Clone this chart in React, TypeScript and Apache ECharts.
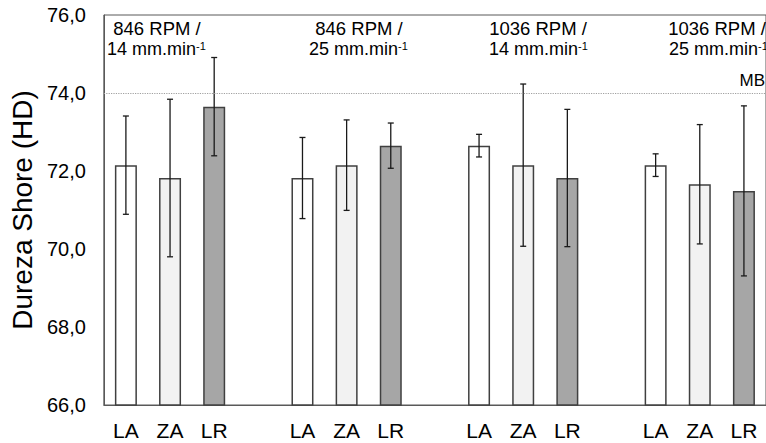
import React, { useEffect, useRef } from "react";
import * as echarts from "echarts";

const groupLine1 = ["846 RPM /", "846 RPM /", "1036 RPM /", "1036 RPM /"];
const groupLine2 = ["14 mm.min", "25 mm.min", "14 mm.min", "25 mm.min"];
const groupSup = "-1";
const types = ["LA", "ZA", "LR"];
const typeColors = ["#ffffff", "#f2f2f2", "#a6a6a6"];

const laMeans = [72.15, 71.82, 72.65, 72.15];
const zaMeans = [71.82, 72.15, 72.15, 71.66];
const lrMeans = [73.65, 72.65, 71.82, 71.49];
const laErr = [1.26, 1.04, 0.29, 0.29];
const zaErr = [2.02, 1.16, 2.08, 1.53];
const lrErr = [1.26, 0.58, 1.76, 2.18];

const refValue = 74.0;
const refLabel = "MB";
const yTicks = { min: 66, max: 76, interval: 2 };

const FONT = "'Liberation Sans', Arial, sans-serif";

export default function App() {
  const ref = useRef<HTMLDivElement>(null);

  useEffect(() => {
    if (!ref.current) return;
    const chart = echarts.init(ref.current, undefined, { renderer: "svg" });

    const means = [laMeans, zaMeans, lrMeans];
    const errs = [laErr, zaErr, lrErr];
    const categories: string[] = [];
    const barData: any[] = [];
    const errData: any[] = [];
    for (let g = 0; g < groupLine1.length; g++) {
      for (let t = 0; t < types.length; t++) {
        const idx = categories.length;
        categories.push(types[t]);
        const m = means[t][g];
        const e = errs[t][g];
        barData.push({ value: m, itemStyle: { color: typeColors[t] } });
        errData.push([idx, m + e, m - e]);
      }
      if (g < groupLine1.length - 1) {
        categories.push("");
        barData.push("-");
      }
    }

    const line1Centers = [157, 359, 538, 717];
    const line2Lefts = [107, 309, 489, 669];

    const labelGraphics: any[] = [];
    for (let i = 0; i < groupLine1.length; i++) {
      labelGraphics.push({
        type: "text",
        x: line1Centers[i],
        y: 28,
        z: 10,
        style: {
          text: groupLine1[i],
          fontSize: 18.5,
          fontFamily: FONT,
          fill: "#000",
          align: "center",
          verticalAlign: "middle",
        },
      });
      labelGraphics.push({
        type: "text",
        x: line2Lefts[i],
        y: 49,
        z: 10,
        style: {
          text: groupLine2[i] + "{sup|" + groupSup + "}",
          fontSize: 18,
          lineHeight: 18,
          fontFamily: FONT,
          fill: "#000",
          align: "left",
          verticalAlign: "middle",
          rich: {
            sup: { fontSize: 11, lineHeight: 18, verticalAlign: "top", fontFamily: FONT, fill: "#000" },
          },
        },
      });
    }

    chart.setOption({
      animation: false,
      textStyle: { fontFamily: FONT },
      grid: {
        left: 103,
        top: 15,
        width: 670,
        height: 390,
        show: true,
        borderColor: "#595959",
        borderWidth: 1,
        backgroundColor: "transparent",
      },
      xAxis: {
        type: "category",
        data: categories,
        boundaryGap: true,
        axisLine: { show: true, lineStyle: { color: "#595959", width: 1 } },
        axisTick: { show: false },
        axisLabel: { interval: 0, color: "#000", fontSize: 21, margin: 15, fontFamily: FONT },
        splitLine: { show: false },
      },
      yAxis: {
        type: "value",
        min: yTicks.min,
        max: yTicks.max,
        interval: yTicks.interval,
        name: "Dureza Shore (HD)",
        nameLocation: "middle",
        nameGap: 66,
        nameTextStyle: { fontSize: 28, color: "#000", fontFamily: FONT },
        axisLine: { show: true, lineStyle: { color: "#595959", width: 1 } },
        axisTick: { show: false },
        splitLine: { show: false },
        axisLabel: {
          color: "#000",
          fontSize: 20,
          margin: 18,
          fontFamily: FONT,
          formatter: (v: number) => v.toFixed(1).replace(".", ","),
        },
      },
      series: [
        {
          type: "bar",
          data: barData,
          barWidth: 22,
          itemStyle: { borderColor: "#404040", borderWidth: 1.5 },
          markLine: {
            silent: true,
            symbol: "none",
            label: { show: false },
            lineStyle: { color: "#a0a0a0", type: "dotted", width: 1.2 },
            data: [{ yAxis: refValue }],
          },
          z: 2,
        },
        {
          type: "custom",
          data: errData,
          z: 3,
          renderItem: (params: any, api: any) => {
            const x = api.value(0);
            const top = api.coord([x, api.value(1)]);
            const bot = api.coord([x, api.value(2)]);
            const cap = 3;
            const st = { stroke: "#1a1a1a", lineWidth: 1.3 };
            return {
              type: "group",
              children: [
                { type: "line", shape: { x1: top[0], y1: top[1], x2: bot[0], y2: bot[1] }, style: st },
                { type: "line", shape: { x1: top[0] - cap, y1: top[1], x2: top[0] + cap, y2: top[1] }, style: st },
                { type: "line", shape: { x1: bot[0] - cap, y1: bot[1], x2: bot[0] + cap, y2: bot[1] }, style: st },
              ],
            };
          },
        },
      ],
      graphic: [
        ...labelGraphics,
        {
          type: "text",
          x: 765,
          y: 89,
          z: 10,
          style: {
            text: refLabel,
            fontSize: 17,
            fontFamily: FONT,
            fill: "#000",
            align: "right",
            verticalAlign: "bottom",
          },
        },
      ],
    });

    return () => chart.dispose();
  }, []);

  return (
    <div
      ref={ref}
      style={{ position: "fixed", left: 0, top: 0, width: 766, height: 443, background: "#fff" }}
    />
  );
}
